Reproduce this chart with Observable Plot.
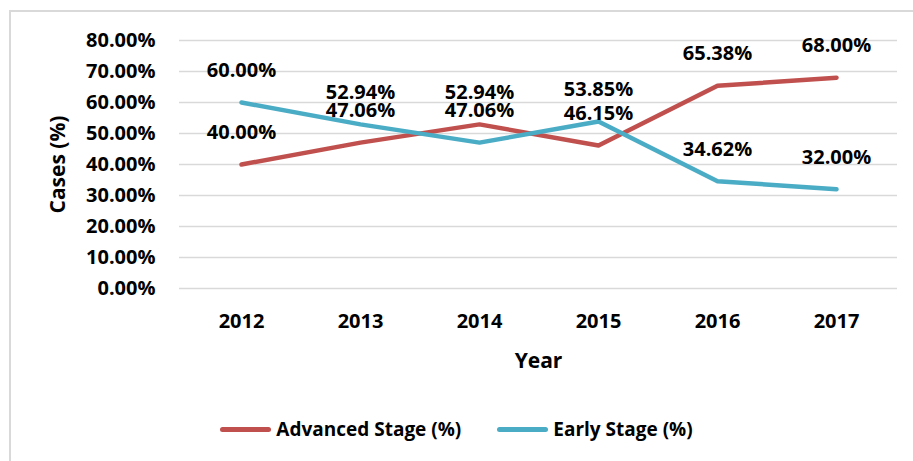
<!DOCTYPE html>
<html>
<head>
<meta charset="utf-8">
<script src="https://cdn.jsdelivr.net/npm/d3@7"></script>
<script src="https://cdn.jsdelivr.net/npm/@observablehq/plot@0.6"></script>
<style>
  html, body { margin: 0; padding: 0; background: #fff; width: 913px; height: 461px; overflow: hidden; }
  body { position: relative; font-family: "Open Sans", Lato, sans-serif; }
  #frame { position: absolute; left: 9px; top: 10px; width: 1000px; height: 1000px; border-left: 2px solid #d9d9d9; border-top: 2px solid #d9d9d9; }
  #chart { position: absolute; left: 0; top: 0; }
  #legend { position: absolute; left: 0; top: 416px; width: 913px; display: flex; justify-content: center; align-items: center; font-weight: bold; font-size: 19px; color: #000; }
  .item { display: flex; align-items: center; }
  .sw { width: 51px; height: 5px; border-radius: 3px; margin-right: 5px; }
  .gap { width: 36px; }
</style>
</head>
<body>
<div id="frame"></div>
<div id="chart"></div>
<div id="legend"></div>
<script>
const years = ["2012", "2013", "2014", "2015", "2016", "2017"];
const seriesNames = ["Advanced Stage (%)", "Early Stage (%)"];
const advanced = [40.00, 47.06, 52.94, 46.15, 65.38, 68.00];
const early = [60.00, 52.94, 47.06, 53.85, 34.62, 32.00];
const yTicks = [0, 10, 20, 30, 40, 50, 60, 70, 80];
const colors = ["#C0504D", "#4BACC6"];

const data = [];
years.forEach((y, i) => data.push({year: y, value: advanced[i], series: seriesNames[0]}));
years.forEach((y, i) => data.push({year: y, value: early[i], series: seriesNames[1]}));

const fmt = d => d.toFixed(2) + "%";
const FONT = "'Open Sans', Lato, sans-serif";

const chart = Plot.plot({
  width: 913,
  height: 400,
  marginLeft: 179,
  marginRight: 16,
  marginTop: 40,
  marginBottom: 112,
  style: { fontFamily: FONT, fontWeight: "bold", fontSize: "20px", color: "#000", background: "transparent" },
  x: { type: "point", domain: years, padding: 0.5, label: null },
  y: { domain: [0, 80], label: null },
  color: { domain: seriesNames, range: colors },
  marks: [
    Plot.ruleY(yTicks, { stroke: "#d9d9d9", strokeWidth: 1.5 }),
    Plot.axisY(yTicks, { tickSize: 0, tickPadding: 24, tickFormat: fmt, fontSize: 20, fontWeight: "bold", fill: "#000", label: null }),
    Plot.axisX(years, { tickSize: 0, tickPadding: 25, fontSize: 20, fontWeight: "bold", fill: "#000", label: null }),
    Plot.line(data, { x: "year", y: "value", z: "series", stroke: "series", strokeWidth: 4.5, strokeLinecap: "round", strokeLinejoin: "round" }),
    Plot.text(data, { x: "year", y: "value", text: d => fmt(d.value), dy: -32, fontSize: 20, fontWeight: "bold", fill: "#000" }),
    Plot.text(["Year"], { frameAnchor: "bottom", lineAnchor: "middle", textAnchor: "middle", dy: 73, fontSize: 21, fontWeight: "bold", fill: "#000" }),
    Plot.text(["Cases (%)"], { frameAnchor: "left", lineAnchor: "middle", textAnchor: "middle", dx: -121, rotate: -90, fontSize: 21, fontWeight: "bold", fill: "#000" })
  ]
});
document.getElementById("chart").appendChild(chart);

const legend = document.getElementById("legend");
seriesNames.forEach((name, i) => {
  if (i > 0) { const g = document.createElement("div"); g.className = "gap"; legend.appendChild(g); }
  const item = document.createElement("div");
  item.className = "item";
  const sw = document.createElement("div");
  sw.className = "sw";
  sw.style.background = colors[i];
  const label = document.createElement("span");
  label.textContent = name;
  item.appendChild(sw);
  item.appendChild(label);
  legend.appendChild(item);
});
</script>
</body>
</html>
